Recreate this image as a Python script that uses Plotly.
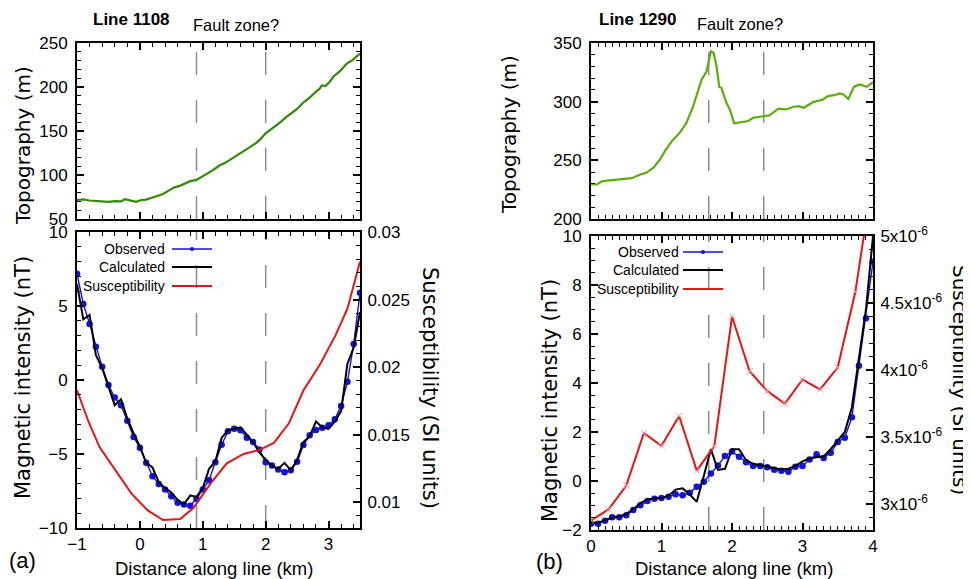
import plotly.graph_objects as go

# ---------------- data ----------------
# Line 1108 (panel a)
TOPO_A_X = [-1.0, -0.9, -0.8, -0.7, -0.6, -0.5, -0.4, -0.3, -0.24, -0.15, -0.06, 0.02, 0.1, 0.2, 0.3, 0.37,
            0.45, 0.55, 0.63, 0.72, 0.8, 0.9, 0.98, 1.06, 1.15, 1.22, 1.27, 1.35, 1.45, 1.54, 1.62, 1.68,
            1.75, 1.85, 1.92, 1.99, 2.08, 2.18, 2.25, 2.32, 2.39, 2.5, 2.6, 2.7, 2.81, 2.86, 2.89, 2.95,
            3.02, 3.08, 3.18, 3.29, 3.38, 3.45, 3.5]
TOPO_A_Y = [71.6, 72.2, 71.0, 70.3, 69.8, 69.5, 70.4, 70.0, 72.5, 71.0, 69.5, 71.5, 72.0, 74.5, 77.0, 78.5,
            82.0, 86.0, 87.6, 90.5, 93.0, 94.4, 97.5, 101.0, 105.0, 108.5, 111.0, 113.5, 118.0, 122.0, 125.0, 127.5,
            131.6, 136.5, 141.0, 146.8, 151.5, 157.4, 161.0, 165.5, 169.5, 175.0, 182.4, 188.0, 195.4, 198.0, 201.8, 201.0,
            206.0, 212.0, 218.0, 226.5, 230.5, 235.0, 238.0]

DIST_A = [-1.0, -0.9, -0.8, -0.7, -0.6, -0.5, -0.4, -0.3, -0.2, -0.1, 0.0, 0.1, 0.2, 0.3, 0.4, 0.5,
          0.6, 0.7, 0.8, 0.9, 1.0, 1.1, 1.2, 1.3, 1.4, 1.5, 1.6, 1.7, 1.8, 1.9, 2.0, 2.1, 2.2, 2.3,
          2.4, 2.5, 2.6, 2.7, 2.8, 2.9, 3.0, 3.1, 3.2, 3.3, 3.4, 3.5]
OBS_A = [7.18, 5.14, 3.79, 2.25, 0.89, -0.33, -1.19, -1.71, -2.75, -3.85, -4.58, -5.59, -6.5, -7.02, -7.4, -7.85,
         -8.3, -8.42, -8.49, -8.03, -7.4, -6.77, -5.55, -4.37, -3.47, -3.29, -3.4, -3.9, -4.19, -4.69, -5.55, -5.77,
         -6.05, -6.23, -6.09, -5.53, -4.4, -3.74, -3.38, -3.22, -3.06, -2.66, -1.75, -0.12, 2.43, 5.89]
CALC_A = [6.5, 4.1, 4.4, 1.7, 0.8, -0.5, -1.7, -1.3, -2.6, -3.6, -4.5, -5.6, -5.9, -6.9, -7.3, -7.6,
          -8.1, -8.4, -7.8, -7.9, -7.3, -6.0, -5.5, -3.9, -3.4, -3.3, -3.2, -3.7, -4.2, -4.9, -5.4, -5.8,
          -6.0, -5.6, -6.1, -5.4, -4.2, -3.8, -2.8, -3.2, -3.3, -2.8, -2.1, 1.1, 2.2, 4.6]
SUS_A_X = [-1.0, -0.82, -0.64, -0.37, -0.13, 0.13, 0.37, 0.64, 0.85, 1.12, 1.38, 1.65, 1.91, 2.13, 2.37,
           2.6, 2.87, 3.11, 3.3, 3.5]
SUS_A = [0.0183, 0.0160, 0.01407, 0.01222, 0.01062, 0.00938, 0.00869, 0.00876, 0.00958, 0.01136, 0.01289,
         0.01358, 0.0139, 0.0144, 0.01585, 0.01827, 0.02025, 0.02235, 0.02432, 0.0278]
FAULT_A = [0.9, 2.0]

# Line 1290 (panel b)
TOPO_B_X = [0.0, 0.085, 0.16, 0.27, 0.37, 0.46, 0.58, 0.7, 0.79, 0.89, 0.98, 1.05, 1.15, 1.26, 1.35, 1.45,
            1.57, 1.64, 1.7, 1.74, 1.78, 1.82, 1.85, 1.92, 1.97, 2.03, 2.11, 2.23, 2.3, 2.44, 2.53, 2.66,
            2.77, 2.86, 2.94, 3.02, 3.15, 3.29, 3.36, 3.45, 3.53, 3.58, 3.65, 3.73, 3.81, 3.91, 4.0]
TOPO_B_Y = [229.7, 229.4, 232.3, 233.1, 233.6, 234.0, 234.8, 237.9, 239.6, 243.9, 250.9, 258.0, 266.5, 273.6, 281.5, 296.2,
            318.9, 325.9, 342.9, 341.5, 330.2, 312.6, 311.8, 299.0, 293.4, 281.5, 282.1, 283.5, 286.3, 287.7, 288.3, 294.0,
            293.4, 295.5, 296.2, 294.8, 299.6, 301.9, 304.7, 305.5, 307.0, 306.1, 302.4, 312.6, 314.6, 312.6, 316.6]

DIST_B = [0.0, 0.1, 0.2, 0.3, 0.4, 0.5, 0.6, 0.7, 0.8, 0.9, 1.0, 1.1, 1.2, 1.3, 1.4, 1.5, 1.6, 1.7, 1.8, 1.9,
          2.0, 2.1, 2.2, 2.3, 2.4, 2.5, 2.6, 2.7, 2.8, 2.9, 3.0, 3.1, 3.2, 3.3, 3.4, 3.5, 3.6, 3.7, 3.8, 3.9, 4.0]
OBS_B = [-1.75, -1.75, -1.62, -1.48, -1.48, -1.40, -1.18, -0.99, -0.82, -0.72, -0.69, -0.64, -0.54, -0.58,
         -0.48, -0.23, -0.03, 0.31, 0.63, 1.02, 1.20, 0.99, 0.77, 0.61, 0.61, 0.56, 0.46, 0.42, 0.38, 0.58,
         0.61, 0.88, 1.09, 0.94, 1.15, 1.59, 1.77, 2.60, 4.70, 6.64, 8.95]
CALC_B = [-1.7, -1.7, -1.6, -1.5, -1.45, -1.35, -1.15, -0.9, -0.75, -0.7, -0.7, -0.6, -0.35, -0.3, -0.55,
          -0.85, 0.2, 1.3, 0.45, 0.5, 1.3, 1.3, 0.85, 0.7, 0.65, 0.6, 0.52, 0.47, 0.5, 0.62, 0.8, 0.92,
          0.97, 1.0, 1.3, 1.65, 2.0, 3.0, 4.9, 7.0, 10.0]
SUS_B_X = [0.0, 0.25, 0.5, 0.75, 1.0, 1.25, 1.5, 1.75, 2.0, 2.25, 2.5, 2.75, 3.0, 3.25, 3.5, 3.75, 4.0]
SUS_B = [2.881e-6, 2.963e-6, 3.141e-6, 3.531e-6, 3.437e-6, 3.659e-6, 3.252e-6, 3.437e-6, 4.400e-6,
         3.993e-6, 3.844e-6, 3.751e-6, 3.931e-6, 3.857e-6, 4.022e-6, 4.585e-6, 5.45e-6]
FAULT_B = [1.67, 2.45]

SUS_B_TICKS = [3e-6, 3.5e-6, 4e-6, 4.5e-6, 5e-6]
SUS_B_TICKTEXT = ["3x10<sup>-6</sup>", "3.5x10<sup>-6</sup>", "4x10<sup>-6</sup>",
                  "4.5x10<sup>-6</sup>", "5x10<sup>-6</sup>"]
SUS_A_TICKS = [0.01, 0.015, 0.02, 0.025, 0.03]
SUS_A_TICKTEXT = ["0.01", "0.015", "0.02", "0.025", "0.03"]

# ---------------- styling helpers ----------------
W, H = 971, 579
OFF = 8  # page body margin of the html page
def PX(x):
    return (x - OFF) / W
def PY(y):
    return 1 - (y - OFF) / H

TICKFONT = dict(family="Liberation Sans, Arial, sans-serif", size=17, color="black")
GREEN_A = "#2f8a06"
GREEN_B = "#5cae0c"
BLUE = "#1010e8"
RED = "#e81414"
GRAY = "#8c8c8c"

def axis(rng, dtick, minor_dtick, domain, anchor, showlabels=True, side=None, mirror="ticks",
         overlaying=None, tickvals=None, ticktext=None, standoff=4):
    d = dict(range=rng, domain=domain, anchor=anchor, showgrid=False, zeroline=False, automargin=False,
             showline=True, linecolor="black", linewidth=2, mirror=mirror,
             ticks="inside", ticklen=7, tickwidth=1.5, tickcolor="black",
             showticklabels=showlabels, tickfont=TICKFONT, ticklabelstandoff=standoff,
             minor=dict(ticks="inside", ticklen=4, tickwidth=1.2, tickcolor="black", dtick=minor_dtick))
    if tickvals is not None:
        d["tickmode"] = "array"
        d["tickvals"] = tickvals
        d["ticktext"] = ticktext
    else:
        d["dtick"] = dtick
        d["tick0"] = 0
    if side:
        d["side"] = side
    if overlaying:
        d["overlaying"] = overlaying
    return d

LXD = [PX(77), PX(360)]
RXD = [PX(591), PX(873)]
TOPD = [PY(219), PY(43)]
BLD = [PY(528), PY(232)]
BRD = [PY(530), PY(236)]

fig = go.Figure()

# panel a
fig.add_trace(go.Scatter(x=TOPO_A_X, y=TOPO_A_Y, mode="lines", line=dict(color=GREEN_A, width=2.2),
                         xaxis="x", yaxis="y", showlegend=False))
fig.add_trace(go.Scatter(x=SUS_A_X, y=SUS_A, mode="lines", line=dict(color=RED, width=2),
                         xaxis="x2", yaxis="y3", showlegend=False))
fig.add_trace(go.Scatter(x=DIST_A, y=OBS_A, mode="lines+markers", line=dict(color=BLUE, width=1.4),
                         marker=dict(color=BLUE, size=6.5), xaxis="x2", yaxis="y2", showlegend=False))
fig.add_trace(go.Scatter(x=DIST_A, y=CALC_A, mode="lines", line=dict(color="black", width=2),
                         xaxis="x2", yaxis="y2", showlegend=False))

# panel b
fig.add_trace(go.Scatter(x=TOPO_B_X, y=TOPO_B_Y, mode="lines", line=dict(color=GREEN_B, width=2.2),
                         xaxis="x3", yaxis="y4", showlegend=False))
fig.add_trace(go.Scatter(x=SUS_B_X, y=SUS_B, mode="lines+markers", line=dict(color=RED, width=2),
                         marker=dict(symbol="x-thin", size=6, line=dict(color="#f4a0a0", width=1)),
                         xaxis="x4", yaxis="y6", showlegend=False))
fig.add_trace(go.Scatter(x=DIST_B, y=OBS_B, mode="lines+markers", line=dict(color=BLUE, width=1.4),
                         marker=dict(color=BLUE, size=6.5), xaxis="x4", yaxis="y5", showlegend=False))
fig.add_trace(go.Scatter(x=DIST_B, y=CALC_B, mode="lines", line=dict(color="black", width=2),
                         xaxis="x4", yaxis="y5", showlegend=False))

layout = dict(
    width=W, height=H, margin=dict(l=0, r=0, t=0, b=0, pad=0, autoexpand=False),
    paper_bgcolor="white", plot_bgcolor="rgba(0,0,0,0)", showlegend=False,
    xaxis=axis([-1, 3.5], 1, 0.2, LXD, "y", showlabels=False),
    yaxis=axis([50, 250], 50, 10, TOPD, "x"),
    xaxis2=axis([-1, 3.5], 1, 0.2, LXD, "y2", standoff=0),
    yaxis2=axis([-10, 10], 5, 1, BLD, "x2", mirror=False),
    yaxis3=axis([0.0081, 0.03], None, 0.001, BLD, "x2", side="right", mirror=False, overlaying="y2",
                tickvals=SUS_A_TICKS, ticktext=SUS_A_TICKTEXT, standoff=2),
    xaxis3=axis([0, 4], 1, 0.1, RXD, "y4", showlabels=False),
    yaxis4=axis([200, 350], 50, 10, TOPD, "x3"),
    xaxis4=axis([0, 4], 1, 0.1, RXD, "y5", standoff=0),
    yaxis5=axis([-2, 10], 2, 0.5, BRD, "x4", mirror=False),
    yaxis6=axis([2.81e-6, 5e-6], None, 0.1e-6, BRD, "x4", side="right", mirror=False, overlaying="y5",
                tickvals=SUS_B_TICKS, ticktext=SUS_B_TICKTEXT, standoff=2),
)
fig.update_layout(**layout)

# fault-zone dashed lines
shapes = []
for fx in FAULT_A:
    for xr, yr in (("x", "y domain"), ("x2", "y2 domain")):
        shapes.append(dict(type="line", xref=xr, yref=yr, x0=fx, x1=fx, y0=0, y1=1, layer="below",
                           line=dict(color=GRAY, width=1.5, dash="23px,25px")))
for fx in FAULT_B:
    for xr, yr in (("x3", "y4 domain"), ("x4", "y5 domain")):
        shapes.append(dict(type="line", xref=xr, yref=yr, x0=fx, x1=fx, y0=0, y1=1, layer="below",
                           line=dict(color=GRAY, width=1.5, dash="23px,25px")))

# manual legends (text followed by sample line)
LEGFONT = dict(family="Liberation Sans, Arial, sans-serif", size=14, color="black")
annotations = []
def legend(x_text_end, x_line0, x_line1, ys):
    names = ["Observed", "Calculated", "Susceptibility"]
    colors = [BLUE, "black", RED]
    widths = [1.4, 2, 2]
    for name, col, lw, yy in zip(names, colors, widths, ys):
        annotations.append(dict(text=name, x=PX(x_text_end), y=PY(yy), xref="paper", yref="paper",
                                xanchor="right", yanchor="middle", showarrow=False, font=LEGFONT))
        shapes.append(dict(type="line", xref="paper", yref="paper", x0=PX(x_line0), x1=PX(x_line1),
                           y0=PY(yy), y1=PY(yy), line=dict(color=col, width=lw)))
    xm = (x_line0 + x_line1) / 2
    shapes.append(dict(type="circle", xref="paper", yref="paper", x0=PX(xm - 2), x1=PX(xm + 2),
                       y0=PY(ys[0] + 2), y1=PY(ys[0] - 2), fillcolor=BLUE, line=dict(color=BLUE, width=0)))

legend(167, 172, 212, [249, 267, 286])
legend(681, 683, 723, [252, 270, 289])

def txt(s, x, y, size=17, angle=0, family="Liberation Sans, Arial, sans-serif", bold=False):
    if bold:
        s = "<b>" + s + "</b>"
    annotations.append(dict(text=s, x=PX(x), y=PY(y), xref="paper", yref="paper", xanchor="center",
                            yanchor="middle", showarrow=False, textangle=angle,
                            font=dict(family=family, size=size, color="black")))

VFONT = "DejaVu Sans, sans-serif"
txt("Line 1108", 131, 20, size=17, bold=True)
txt("Fault zone?", 236, 25, size=16.5)
txt("Line 1290", 638, 20, size=17, bold=True)
txt("Fault zone?", 740, 24, size=16.5)
txt("Topography (m)", 23, 146, size=20, angle=-90, family=VFONT)
txt("Magnetic intensity (nT)", 23, 378, size=21, angle=-90, family=VFONT)
txt("Susceptibility (SI units)", 430, 388, size=21, angle=90, family=VFONT)
txt("Topography (m)", 509, 135, size=20, angle=-90, family=VFONT)
txt("Magnetic intensity (nT)", 550, 401, size=21, angle=-90, family=VFONT)
txt("Susceptibility (SI units)", 960, 380, size=20, angle=90, family=VFONT)
txt("Distance along line (km)", 214, 568, size=18.5)
txt("Distance along line (km)", 734, 568, size=18.5)
txt("(a)", 22, 560, size=22)
txt("(b)", 549, 561, size=22)

fig.update_layout(shapes=shapes, annotations=annotations)
fig.write_html("out.html")
